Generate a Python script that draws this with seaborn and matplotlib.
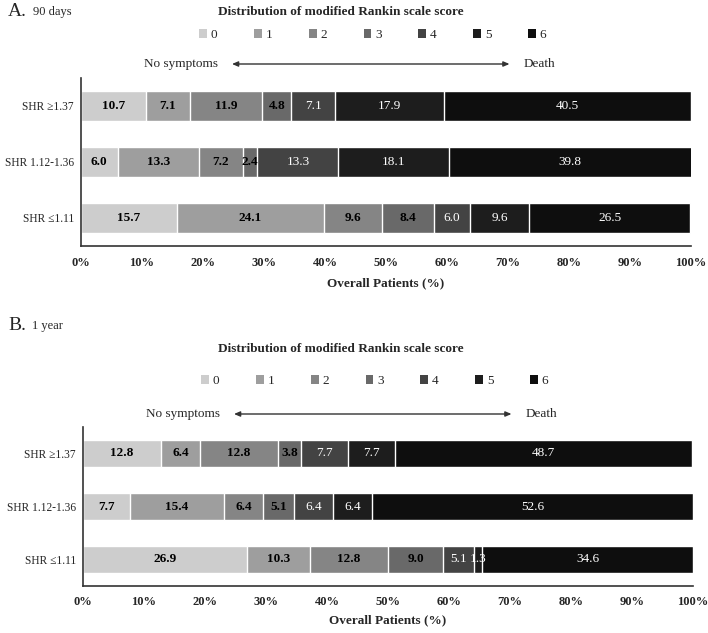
import seaborn as sns
import pandas as pd
import matplotlib.pyplot as plt
from matplotlib.patches import Patch

# data (percent of patients, mRS 0..6)
groups = ['SHR \u22651.37', 'SHR 1.12-1.36', 'SHR \u22641.11']
scores = ['0', '1', '2', '3', '4', '5', '6']

days90_high = [10.7, 7.1, 11.9, 4.8, 7.1, 17.9, 40.5]
days90_mid = [6.0, 13.3, 7.2, 2.4, 13.3, 18.1, 39.8]
days90_low = [15.7, 24.1, 9.6, 8.4, 6.0, 9.6, 26.5]

year1_high = [12.8, 6.4, 12.8, 3.8, 7.7, 7.7, 48.7]
year1_mid = [7.7, 15.4, 6.4, 5.1, 6.4, 6.4, 52.6]
year1_low = [26.9, 10.3, 12.8, 9.0, 5.1, 1.3, 34.6]

colors = ['#cdcdcd', '#9e9e9e', '#858585', '#696969', '#434343', '#1d1d1d', '#0e0e0e']

sns.set_style('white')
plt.rcParams['font.family'] = ['Liberation Serif', 'DejaVu Serif']

fig = plt.figure(figsize=(7.08, 6.33), dpi=100)
axA = fig.add_axes([81/708, 1-246/633, 610/708, 168/633])
axB = fig.add_axes([83/708, 1-586/633, 610/708, 159/633])


def stacked(ax, rows, leg_y, pad, lpad):
    df = pd.DataFrame(rows, index=groups, columns=scores)
    cum = df.cumsum(axis=1)
    # draw from the last (longest) cumulative layer to the first
    for k in range(len(scores) - 1, -1, -1):
        sns.barplot(x=cum[scores[k]].values, y=groups, orient='h', color=colors[k],
                    saturation=1, width=0.52, ax=ax)
    for i, g in enumerate(groups):
        left = 0
        for k, s in enumerate(scores):
            v = df.loc[g, s]
            dark = k >= 4
            ax.text(left + v/2, i, f'{v:.1f}', ha='center', va='center', fontsize=9.5,
                    color='white' if dark else 'black',
                    fontweight='normal' if dark else 'bold')
            left += v

    ax.set_xlim(0, 100)
    ax.set_ylim(2.5, -0.5)
    ax.set_xticks(range(0, 101, 10))
    ax.set_xticklabels([f'{t}%' for t in range(0, 101, 10)], fontweight='bold', fontsize=9)
    ax.tick_params(axis='x', direction='out', length=3, width=1, color='#333333', pad=pad)
    ax.tick_params(axis='y', length=0, labelsize=8.3, pad=5)
    ax.set_xlabel('Overall Patients (%)', fontweight='bold', fontsize=9.5, labelpad=lpad)
    ax.set_ylabel('')
    sns.despine(ax=ax)
    for sp in ['left', 'bottom']:
        ax.spines[sp].set_color('#333333')
        ax.spines[sp].set_linewidth(1.2)

    handles = [Patch(facecolor=c, edgecolor='none', label=s) for c, s in zip(colors, scores)]
    ax.legend(handles=handles, ncol=7, loc='center', bbox_to_anchor=(0.478, leg_y),
              frameon=False, fontsize=9.5, handlelength=0.6, handleheight=0.6,
              handletextpad=0.3, columnspacing=2.75)


stacked(axA, [days90_high, days90_mid, days90_low], 1 + (78-35)/168, 5, 6)
stacked(axB, [year1_high, year1_mid, year1_low], 1 + (427-381)/159, 4, 5)

# "No symptoms <---> Death" rows
for ax, y in [(axA, 1 + (78-64)/168), (axB, 1 + (427-414)/159)]:
    tr = ax.get_xaxis_transform()
    ax.annotate('', xy=(70.7, y), xytext=(24.3, y), xycoords=tr, textcoords=tr,
                arrowprops=dict(arrowstyle='<|-|>,head_length=0.35,head_width=0.15',
                                color='#333333', lw=1), annotation_clip=False)
    ax.text(22.5, y, 'No symptoms', transform=tr, ha='right', va='center', fontsize=9.5)
    ax.text(72.5, y, 'Death', transform=tr, ha='left', va='center', fontsize=9.5)

# headers
fig.text(341/708, 1-12/633, 'Distribution of modified Rankin scale score',
         ha='center', va='center', fontweight='bold', fontsize=9.5)
fig.text(341/708, 1-349/633, 'Distribution of modified Rankin scale score',
         ha='center', va='center', fontweight='bold', fontsize=9.5)
fig.text(8/708, 1-11/633, 'A.', ha='left', va='center', fontsize=14)
fig.text(33/708, 1-12/633, '90 days', ha='left', va='center', fontsize=9)
fig.text(8/708, 1-325/633, 'B.', ha='left', va='center', fontsize=14)
fig.text(32/708, 1-326/633, '1 year', ha='left', va='center', fontsize=9)

fig.savefig('out.png', dpi=100)
